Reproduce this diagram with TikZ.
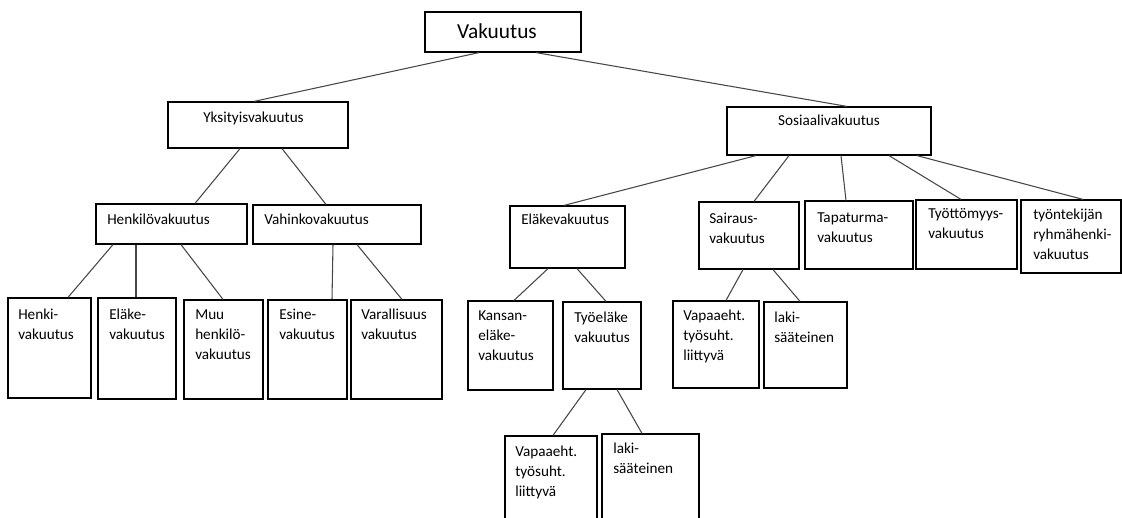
\documentclass[tikz,border=0pt]{standalone}
\usepackage{fontspec}
\setmainfont{Carlito}
\usetikzlibrary{fit}
\newcommand\smallfnt{\fontsize{11.4}{15.2}\selectfont}
\newcommand\bigfnt{\fontsize{16}{19.2}\selectfont}
\begin{document}
\begin{tikzpicture}[x=0.75pt,y=-0.75pt,
  box/.style={draw=black, line width=0.9pt, inner sep=0pt},
  con/.style={draw=black!72, line width=0.8pt},
  lbl/.style={inner sep=0pt, anchor=north west, align=left, font=\smallfnt},
  clbl/.style={inner sep=0pt, anchor=north, align=center, font=\smallfnt}]
\useasboundingbox (0,0) rectangle (1122,518);
\clip (0,0) rectangle (1122,518);
% boxes
\node[box, fit={(425,12) (581,52)}] (vak) {};
\node[box, fit={(168,102) (348,148)}] (yks) {};
\node[box, fit={(727,107) (931,155)}] (sos) {};
\node[box, fit={(96,204) (247,244)}] (henk) {};
\node[box, fit={(253,205) (421,244)}] (vah) {};
\node[box, fit={(510,206) (625,268)}] (ela) {};
\node[box, fit={(699,202) (799,269)}] (sai) {};
\node[box, fit={(805,201) (913,269)}] (tap) {};
\node[box, fit={(916,200) (1017,269)}] (tyo) {};
\node[box, fit={(1021,200) (1121,273)}] (ryh) {};
\node[box, fit={(8,298) (91,398)}] (henki) {};
\node[box, fit={(98,298) (176,399)}] (elake) {};
\node[box, fit={(184,300) (263,399)}] (muu) {};
\node[box, fit={(268,300) (347,399)}] (esine) {};
\node[box, fit={(351,300) (442,399)}] (var) {};
\node[box, fit={(468,301) (553,390)}] (kan) {};
\node[box, fit={(563,302) (641,389)}] (tel) {};
\node[box, fit={(673,301) (759,388)}] (vapa) {};
\node[box, fit={(764,302) (847,388)}] (lakia) {};
\node[box, fit={(505,436) (597,540)}] (vapb) {};
\node[box, fit={(602,434) (699,540)}] (lakib) {};
% labels
\node[clbl, font=\bigfnt] (t-vak) at (497,20) {\strut Vakuutus};
\node[lbl] (t-yks) at (203,108) {\strut Yksityisvakuutus};
\node[clbl] (t-sos) at (829,111) {\strut Sosiaalivakuutus};
\node[lbl] (t-henk) at (107,210) {\strut Henkilövakuutus};
\node[lbl] (t-vah) at (264,210) {\strut Vahinkovakuutus};
\node[lbl] (t-ela) at (521,210) {\strut Eläkevakuutus};
\node[lbl] (t-sai) at (709,209) {\strut Sairaus-\\vakuutus};
\node[lbl] (t-tap) at (817,208) {\strut Tapaturma-\\vakuutus};
\node[lbl] (t-tyo) at (928,204) {\strut Työttömyys-\\vakuutus};
\node[lbl] (t-ryh) at (1033,205) {\strut työntekijän\\ryhmähenki-\\vakuutus};
\node[lbl] (t-henki) at (18,305) {\strut Henki-\\vakuutus};
\node[lbl] (t-elake) at (109,305) {\strut Eläke-\\vakuutus};
\node[lbl] (t-muu) at (195,305) {\strut Muu\\henkilö-\\vakuutus};
\node[lbl] (t-esine) at (279,305) {\strut Esine-\\vakuutus};
\node[lbl] (t-var) at (361,305) {\strut Varallisuus\\vakuutus};
\node[lbl] (t-kan) at (478,306) {\strut Kansan-\\eläke-\\vakuutus};
\node[lbl] (t-tel) at (574,308) {\strut Työeläke\\vakuutus};
\node[lbl] (t-vapa) at (683,306) {\strut Vapaaeht.\\työsuht.\\liittyvä};
\node[lbl] (t-lakia) at (774,308) {\strut laki-\\sääteinen};
\node[lbl] (t-vapb) at (515,442) {\strut Vapaaeht.\\työsuht.\\liittyvä};
\node[lbl] (t-lakib) at (613,439) {\strut laki-\\sääteinen};
% connectors
\draw[con] (vak.south -| 479,0) -- (yks.north -| 254,0);
\draw[con] (vak.south -| 536,0) -- (sos.north -| 847,0);
\draw[con] (yks.south -| 240,0) -- (henk.north -| 195,0);
\draw[con] (yks.south -| 282,0) -- (vah.north -| 326,0);
\draw[con] (henk.south -| 113,0) -- (henki.north -| 68,0);
\draw[con] (henk.south -| 136,0) -- (elake.north -| 136,0);
\draw[con] (henk.south -| 181,0) -- (muu.north -| 223,0);
\draw[con] (vah.south -| 333,0) -- (esine.north -| 332,0);
\draw[con] (vah.south -| 357,0) -- (var.north -| 402,0);
\draw[con] (sos.south -| 756,0) -- (ela.north -| 564,0);
\draw[con] (sos.south -| 789,0) -- (sai.north -| 754,0);
\draw[con] (sos.south -| 841,0) -- (tap.north -| 846,0);
\draw[con] (sos.south -| 889,0) -- (tyo.north -| 961,0);
\draw[con] (sos.south -| 917,0) -- (ryh.north -| 1083,0);
\draw[con] (ela.south -| 548,0) -- (kan.north -| 514,0);
\draw[con] (ela.south -| 577,0) -- (tel.north -| 606,0);
\draw[con] (sai.south -| 743,0) -- (vapa.north -| 726,0);
\draw[con] (sai.south -| 773,0) -- (lakia.north -| 800,0);
\draw[con] (tel.south -| 586,0) -- (vapb.north -| 553,0);
\draw[con] (tel.south -| 617,0) -- (lakib.north -| 642,0);
\end{tikzpicture}
\end{document}
